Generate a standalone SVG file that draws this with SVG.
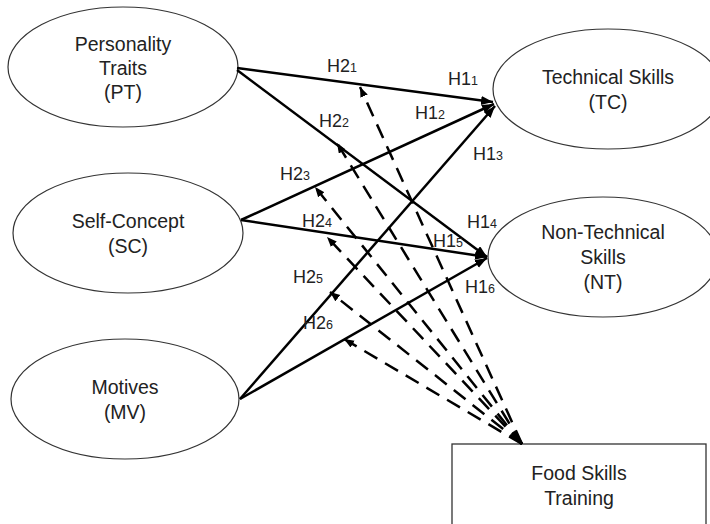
<svg xmlns="http://www.w3.org/2000/svg" width="710" height="524" viewBox="0 0 710 524">
<style>
.node ellipse{fill:#fff;stroke:#333;stroke-width:1.2}
.node rect{fill:#fff;stroke:#333;stroke-width:1.3}
.nt{font-family:"Liberation Sans",Arial,sans-serif;font-size:19.5px;fill:#222;text-anchor:middle}
.lbl{font-family:"Liberation Sans",Arial,sans-serif;font-size:18px;fill:#222}
.sub{font-size:12.5px}
.solid{stroke:#000;stroke-width:2.5;fill:none;marker-end:url(#ah)}
.dash{stroke:#000;stroke-width:2.5;fill:none;stroke-dasharray:15 9;marker-end:url(#ah2)}
</style>
<defs>
<marker id="ah" markerUnits="userSpaceOnUse" markerWidth="13" markerHeight="10" refX="12" refY="4.5" orient="auto">
<path d="M0,0 L12,4.5 L0,9 z" fill="#000"/>
</marker>
<marker id="ah2" markerUnits="userSpaceOnUse" markerWidth="12" markerHeight="10" refX="10" refY="4" orient="auto">
<path d="M0,0 L10,4 L0,8 z" fill="#000"/>
</marker>
</defs>
<rect width="710" height="524" fill="#fff"/>
<g id="PT" class="node"><ellipse cx="123" cy="67" rx="115" ry="60"/>
<text class="nt" x="123" y="51">Personality</text><text class="nt" x="123" y="75">Traits</text><text class="nt" x="123" y="99">(PT)</text></g>
<g id="SC" class="node"><ellipse cx="128" cy="233" rx="115" ry="60"/>
<text class="nt" x="128" y="228">Self-Concept</text><text class="nt" x="128" y="253">(SC)</text></g>
<g id="MV" class="node"><ellipse cx="125" cy="399" rx="114" ry="60"/>
<text class="nt" x="125" y="394">Motives</text><text class="nt" x="125" y="419">(MV)</text></g>
<g id="TC" class="node"><ellipse cx="608" cy="89" rx="115" ry="60"/>
<text class="nt" x="608" y="84">Technical Skills</text><text class="nt" x="608" y="109">(TC)</text></g>
<g id="NT" class="node"><ellipse cx="603" cy="257" rx="115" ry="60"/>
<text class="nt" x="603" y="239">Non-Technical</text><text class="nt" x="603" y="264">Skills</text><text class="nt" x="603" y="289">(NT)</text></g>
<g id="FST" class="node"><rect x="452" y="444" width="254" height="90"/>
<text class="nt" x="579" y="480">Food Skills</text><text class="nt" x="579" y="505">Training</text></g>
<g id="connectors">
<path class="solid" d="M237,68 L493,102"/>
<path class="solid" d="M237,70 L487,257"/>
<path class="solid" d="M241,220 L494,104"/>
<path class="solid" d="M241,220 L487,257"/>
<path class="solid" d="M240,399 L495,106"/>
<path class="solid" d="M240,399 L487,258"/>
<path class="dash" d="M522,444 L360,87"/>
<path class="dash" d="M522,444 L337,143"/>
<path class="dash" d="M522,444 L315,187"/>
<path class="dash" d="M522,444 L327,237"/>
<path class="dash" d="M522,444 L330,292"/>
<path class="dash" d="M522,444 L344,339"/>
</g>
<g id="labels">
<text class="lbl" x="327" y="72">H2<tspan class="sub">1</tspan></text>
<text class="lbl" x="448" y="85">H1<tspan class="sub">1</tspan></text>
<text class="lbl" x="415" y="119">H1<tspan class="sub">2</tspan></text>
<text class="lbl" x="319" y="127">H2<tspan class="sub">2</tspan></text>
<text class="lbl" x="473" y="160">H1<tspan class="sub">3</tspan></text>
<text class="lbl" x="280" y="180">H2<tspan class="sub">3</tspan></text>
<text class="lbl" x="302" y="227">H2<tspan class="sub">4</tspan></text>
<text class="lbl" x="467" y="228">H1<tspan class="sub">4</tspan></text>
<text class="lbl" x="433" y="247">H1<tspan class="sub">5</tspan></text>
<text class="lbl" x="293" y="283">H2<tspan class="sub">5</tspan></text>
<text class="lbl" x="465" y="293">H1<tspan class="sub">6</tspan></text>
<text class="lbl" x="303" y="329">H2<tspan class="sub">6</tspan></text>
</g>
</svg>
